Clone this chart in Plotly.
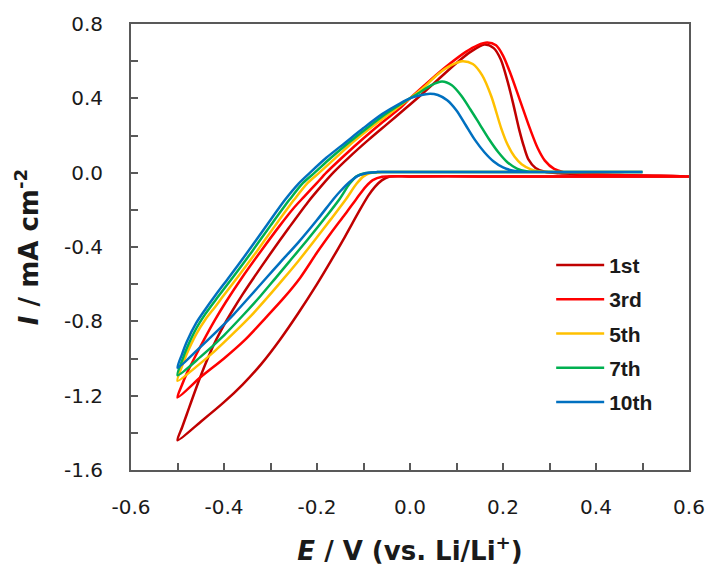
import plotly.graph_objects as go

# ---- data ----
labels = ["1st", "3rd", "5th", "7th", "10th"]
colors = ["#C00000", "#FF0000", "#FFC000", "#00B050", "#0070C0"]

# 1st cycle: anodic sweep from -0.5 V to 0.6 V, then cathodic sweep back to -0.5 V
E_1st = [-0.5, -0.49, -0.48, -0.46, -0.44, -0.42, -0.40, -0.38, -0.36, -0.34, -0.30, -0.26, -0.22, -0.19, -0.165,
         -0.13, -0.09, -0.05, -0.01, 0.02, 0.06, 0.10, 0.13, 0.16, 0.18, 0.195, 0.21, 0.222, 0.234, 0.245, 0.255,
         0.27, 0.29, 0.32, 0.45, 0.6,
         0.45, 0.3, 0.15, 0.0, -0.045, -0.06, -0.075, -0.09, -0.11, -0.14, -0.17, -0.20, -0.24, -0.28, -0.32,
         -0.36, -0.40, -0.45, -0.5]
I_1st = [-1.44, -1.37, -1.30, -1.16, -1.03, -0.915, -0.82, -0.735, -0.655, -0.58, -0.435, -0.295, -0.16, -0.07, 0.0,
         0.085, 0.175, 0.26, 0.345, 0.41, 0.50, 0.59, 0.65, 0.69, 0.67, 0.61, 0.49, 0.37, 0.24, 0.14, 0.07,
         0.025, 0.005, -0.003, -0.013, -0.02,
         -0.02, -0.02, -0.02, -0.02, -0.022, -0.04, -0.075, -0.125, -0.21, -0.345, -0.475, -0.60, -0.755, -0.90, -1.03,
         -1.14, -1.235, -1.34, -1.44]

# 3rd cycle
E_3rd = [-0.5, -0.49, -0.48, -0.46, -0.44, -0.42, -0.397, -0.36, -0.32, -0.28, -0.25, -0.228, -0.20, -0.18,
         -0.14, -0.10, -0.06, -0.02, 0.0, 0.04, 0.08, 0.12, 0.145, 0.166, 0.185, 0.20, 0.215, 0.235, 0.259, 0.275,
         0.29, 0.31, 0.33, 0.36, 0.45, 0.6,
         0.45, 0.3, 0.15, 0.0, -0.06, -0.08, -0.095, -0.115, -0.14, -0.17, -0.20, -0.236, -0.27, -0.31, -0.355,
         -0.40, -0.45, -0.5]
I_3rd = [-1.21, -1.14, -1.08, -0.98, -0.885, -0.795, -0.70, -0.56, -0.42, -0.285, -0.19, -0.13, -0.055, 0.0,
         0.095, 0.185, 0.27, 0.35, 0.40, 0.49, 0.575, 0.65, 0.685, 0.70, 0.685, 0.63, 0.54, 0.40, 0.23, 0.13,
         0.065, 0.02, 0.003, -0.005, -0.013, -0.02,
         -0.02, -0.02, -0.02, -0.02, -0.022, -0.04, -0.075, -0.14, -0.225, -0.325, -0.43, -0.565, -0.67, -0.78, -0.90,
         -1.0, -1.10, -1.21]

# 5th cycle
E_5th = [-0.5, -0.49, -0.48, -0.46, -0.44, -0.42, -0.405, -0.37, -0.33, -0.29, -0.249, -0.22, -0.195, -0.16,
         -0.12, -0.08, -0.04, 0.0, 0.03, 0.06, 0.09, 0.113, 0.135, 0.155, 0.175, 0.196, 0.21, 0.225, 0.24, 0.26,
         0.28, 0.31, 0.4, 0.5,
         0.4, 0.3, 0.15, 0.0, -0.06, -0.085, -0.10, -0.115, -0.137, -0.17, -0.21, -0.24, -0.27, -0.306, -0.34,
         -0.38, -0.42, -0.46, -0.5]
I_5th = [-1.12, -1.04, -0.975, -0.87, -0.79, -0.725, -0.675, -0.56, -0.425, -0.285, -0.145, -0.055, 0.0, 0.08,
         0.17, 0.25, 0.325, 0.40, 0.46, 0.53, 0.58, 0.60, 0.585, 0.525, 0.41, 0.24, 0.15, 0.085, 0.045, 0.018,
         0.007, 0.004, 0.003, 0.003,
         0.003, 0.003, 0.003, 0.003, 0.003, -0.002, -0.02, -0.06, -0.14, -0.25, -0.38, -0.475, -0.565, -0.67, -0.765,
         -0.865, -0.96, -1.045, -1.12]

# 7th cycle
E_7th = [-0.5, -0.49, -0.48, -0.46, -0.44, -0.415, -0.38, -0.34, -0.30, -0.259, -0.23, -0.205, -0.17, -0.13,
         -0.09, -0.05, -0.01, 0.02, 0.045, 0.069, 0.09, 0.11, 0.13, 0.15, 0.17, 0.19, 0.21, 0.23, 0.25, 0.28,
         0.31, 0.4, 0.5,
         0.4, 0.3, 0.15, 0.0, -0.07, -0.095, -0.115, -0.13, -0.151, -0.18, -0.22, -0.26, -0.29, -0.322, -0.36,
         -0.40, -0.45, -0.5]
I_7th = [-1.09, -1.01, -0.945, -0.84, -0.76, -0.675, -0.56, -0.425, -0.285, -0.145, -0.055, 0.0, 0.08, 0.165,
         0.245, 0.32, 0.385, 0.43, 0.47, 0.49, 0.47, 0.415, 0.34, 0.26, 0.18, 0.11, 0.055, 0.022, 0.008, 0.004,
         0.003, 0.003, 0.003,
         0.003, 0.003, 0.003, 0.003, 0.003, -0.002, -0.02, -0.06, -0.14, -0.235, -0.36, -0.48, -0.57, -0.665, -0.77,
         -0.875, -0.99, -1.09]

# 10th cycle
E_10th = [-0.5, -0.49, -0.48, -0.46, -0.44, -0.42, -0.39, -0.35, -0.31, -0.27, -0.24, -0.215, -0.18, -0.14,
          -0.10, -0.06, -0.02, 0.0, 0.02, 0.043, 0.06, 0.08, 0.10, 0.12, 0.14, 0.16, 0.18, 0.20, 0.22, 0.25,
          0.30, 0.4, 0.5,
          0.4, 0.3, 0.15, 0.0, -0.07, -0.09, -0.11, -0.13, -0.15, -0.164, -0.20, -0.24, -0.28, -0.312, -0.344,
          -0.38, -0.42, -0.46, -0.5]
I_10th = [-1.05, -0.975, -0.91, -0.81, -0.735, -0.665, -0.565, -0.43, -0.29, -0.15, -0.06, 0.0, 0.08, 0.16,
          0.24, 0.315, 0.375, 0.40, 0.415, 0.425, 0.418, 0.39, 0.335, 0.255, 0.175, 0.11, 0.06, 0.028, 0.012, 0.004,
          0.003, 0.003, 0.003,
          0.003, 0.003, 0.003, 0.003, 0.003, 0.0, -0.015, -0.05, -0.10, -0.14, -0.255, -0.375, -0.485, -0.575, -0.665,
          -0.765, -0.865, -0.96, -1.05]

E_series = [E_1st, E_3rd, E_5th, E_7th, E_10th]
I_series = [I_1st, I_3rd, I_5th, I_7th, I_10th]

x_tickvals = [-0.6, -0.4, -0.2, 0.0, 0.2, 0.4, 0.6]
x_ticktext = ["-0.6", "-0.4", "-0.2", "0.0", "0.2", "0.4", "0.6"]
x_minorvals = [-0.5, -0.3, -0.1, 0.1, 0.3, 0.5]
y_tickvals = [-1.6, -1.2, -0.8, -0.4, 0.0, 0.4, 0.8]
y_ticktext = ["-1.6", "-1.2", "-0.8", "-0.4", "0.0", "0.4", "0.8"]
y_minorvals = [-1.4, -1.0, -0.6, -0.2, 0.2, 0.6]

# ---- figure ----
fig = go.Figure()
for name, col, ex, iy in zip(labels, colors, E_series, I_series):
    fig.add_trace(go.Scatter(
        x=ex, y=iy, mode="lines", name=name, legendgroup=name,
        line=dict(color=col, width=2.5, shape="spline", smoothing=0.8),
    ))

axis_col = "#595959"
tick_font = dict(family="DejaVu Sans", size=20, color="#1a1a1a")

fig.update_layout(
    width=717, height=573,
    margin=dict(l=131, r=19, t=24, b=101),
    paper_bgcolor="white", plot_bgcolor="white",
    showlegend=True,
    legend=dict(
        x=0.753, y=0.505, xanchor="left", yanchor="top",
        bgcolor="rgba(0,0,0,0)",
        font=dict(family="Liberation Sans", size=21, color="#1a1a1a", weight="bold"),
        itemwidth=48, tracegroupgap=4,
    ),
    xaxis=dict(
        range=[-0.6, 0.6], tickmode="array", tickvals=x_tickvals, ticktext=x_ticktext,
        ticks="inside", ticklen=7, tickwidth=1.5, tickcolor=axis_col,
        showline=True, linecolor=axis_col, linewidth=2, mirror=True,
        showgrid=False, zeroline=False, tickfont=tick_font, ticklabelstandoff=18,
        minor=dict(tickmode="array", tickvals=x_minorvals, ticks="inside", ticklen=7,
                   tickwidth=1.5, tickcolor=axis_col, showgrid=False),
        title=dict(text="<b><i>E</i> / V (vs. Li/Li<sup>+</sup>)</b>",
                   font=dict(family="DejaVu Sans", size=26, color="#1a1a1a"), standoff=24),
    ),
    yaxis=dict(
        range=[-1.6, 0.8], tickmode="array", tickvals=y_tickvals, ticktext=y_ticktext,
        ticks="inside", ticklen=7, tickwidth=1.5, tickcolor=axis_col,
        showline=True, linecolor=axis_col, linewidth=2, mirror=True,
        showgrid=False, zeroline=False, tickfont=tick_font, ticklabelstandoff=22,
        minor=dict(tickmode="array", tickvals=y_minorvals, ticks="inside", ticklen=7,
                   tickwidth=1.5, tickcolor=axis_col, showgrid=False),
        title=dict(text="<b><i>I</i> / mA cm<sup>-2</sup></b>",
                   font=dict(family="DejaVu Sans", size=26, color="#1a1a1a"), standoff=18),
    ),
)

fig.write_html("out.html")
